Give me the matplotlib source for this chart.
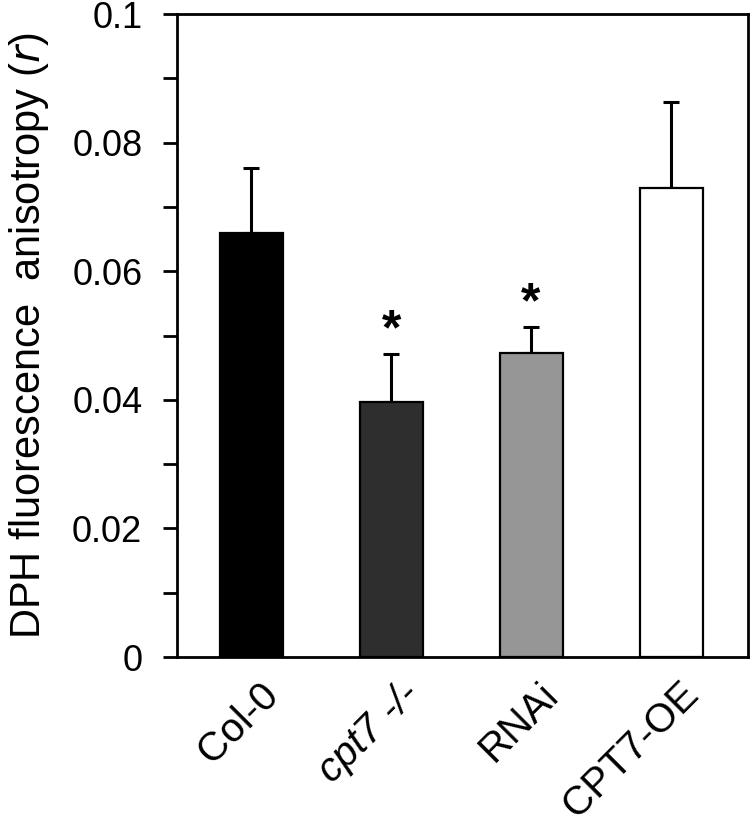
import matplotlib.pyplot as plt
from matplotlib.ticker import MultipleLocator
from matplotlib.transforms import ScaledTranslation

plt.rcParams['font.family'] = ['Liberation Sans', 'DejaVu Sans']

genotypes = ["Col-0", "cpt7 -/-", "RNAi", "CPT7-OE"]
anisotropy = [0.0659, 0.0397, 0.0473, 0.0729]
sd = [0.0101, 0.0074, 0.0040, 0.0134]
significant = [False, True, True, False]
bar_colors = ["#000000", "#2e2e2e", "#969696", "#ffffff"]
yticks = [0, 0.02, 0.04, 0.06, 0.08, 0.1]
ytick_labels = ["0", "0.02", "0.04", "0.06", "0.08", "0.1"]

fig = plt.figure(figsize=(7.52, 8.25), dpi=100)
ax = fig.add_axes([0.2354, 0.2036, 0.7593, 0.7794])

x = range(len(genotypes))
ax.bar(x, anisotropy, width=0.45, color=bar_colors, edgecolor="black",
       linewidth=1.6, zorder=2)
# only the upper half of the error bar is shown
ax.errorbar(x, anisotropy, yerr=[[0] * len(sd), sd], fmt="none",
            ecolor="black", elinewidth=2.2, capsize=6, capthick=2.2, zorder=1)

# significance stars above the error bars
for i, (m, e, s) in enumerate(zip(anisotropy, sd, significant)):
    if s:
        ax.text(i, m + e + 0.0036, "*", ha="center", va="center",
                fontsize=36, fontweight="bold")

ax.set_xlim(-0.53, 3.55)
ax.set_ylim(0, 0.1)
ax.set_yticks(yticks)
ax.set_yticklabels(ytick_labels, fontsize=26)
ax.yaxis.set_minor_locator(MultipleLocator(0.01))
ax.tick_params(axis="y", which="both", direction="out", length=10, width=2)
ax.tick_params(axis="y", which="major", pad=15)

ax.set_xticks(list(x))
ax.set_xticklabels(genotypes, fontsize=29, rotation=45, ha="right",
                   rotation_mode="anchor")
ax.get_xticklabels()[1].set_style("italic")
ax.tick_params(axis="x", length=0, pad=13)
shift = ScaledTranslation(0.08, 0, fig.dpi_scale_trans)
for lab in ax.get_xticklabels():
    lab.set_transform(lab.get_transform() + shift)

for sp in ax.spines.values():
    sp.set_linewidth(2)

ax.set_ylabel("DPH fluorescence  anisotropy ($\\it{r}$)", fontsize=30, labelpad=15)

fig.savefig("out.png", dpi=100)
